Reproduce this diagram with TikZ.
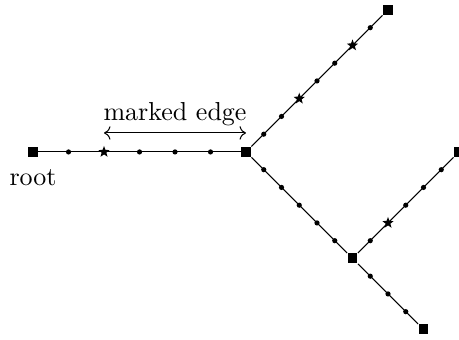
\documentclass[tikz,border=0pt]{standalone}
\usepackage{amsmath,amssymb}
\usepackage{tikz}
\usetikzlibrary{arrows.meta,positioning,shapes.geometric}
\tikzset{
  sq/.style={rectangle,fill=black,minimum size=3.8pt,inner sep=0pt},
  dt/.style={circle,fill=black,minimum size=2pt,inner sep=0pt},
  st/.style={star,star points=5,star point ratio=2.4,fill=black,minimum size=4.6pt,inner sep=0pt},
  ed/.style={thin,black}
}
\begin{document}
\begin{tikzpicture}[x=0.24cm,y=0.24cm]
\useasboundingbox (-1.86,-10.59) rectangle (24,8.56);
\node[sq] (root) at (0,0) {};
\node[sq] (fork) at (12,0) {};
\node[sq] (top) at (20,8) {};
\node[sq] (low) at (18,-6) {};
\node[sq] (right) at (24,0) {};
\node[sq] (bot) at (22,-10) {};
\draw[ed] (root)--(fork);
\draw[ed] (fork)--(top);
\draw[ed] (fork)--(low);
\draw[ed] (low)--(right);
\draw[ed] (low)--(bot);
\foreach \i in {2,6,8,10}{\node[dt] (h\i) at (\i,0) {};}
\node[st] (mark) at (4,0) {};
\foreach \k in {1,2,4,5,7}{\node[dt] (u\k) at (12+\k,\k) {};}
\foreach \k in {3,6}{\node[st] (us\k) at (12+\k,\k) {};}
\foreach \k in {1,...,5}{\node[dt] (d\k) at (12+\k,-\k) {};}
\foreach \k in {1,3,4,5}{\node[dt] (r\k) at (18+\k,-6+\k) {};}
\node[st] (rs2) at (20,-4) {};
\foreach \k in {1,2,3}{\node[dt] (b\k) at (18+\k,-6-\k) {};}
\node[below=1pt of root] (rootlbl) {root};
\draw[{To}-{To},ed] ([yshift=7.3pt]mark.center)--([yshift=7.3pt]fork.center)
  node[midway,above,inner sep=2.5pt] (marklbl) {marked edge};
\end{tikzpicture}
\end{document}
